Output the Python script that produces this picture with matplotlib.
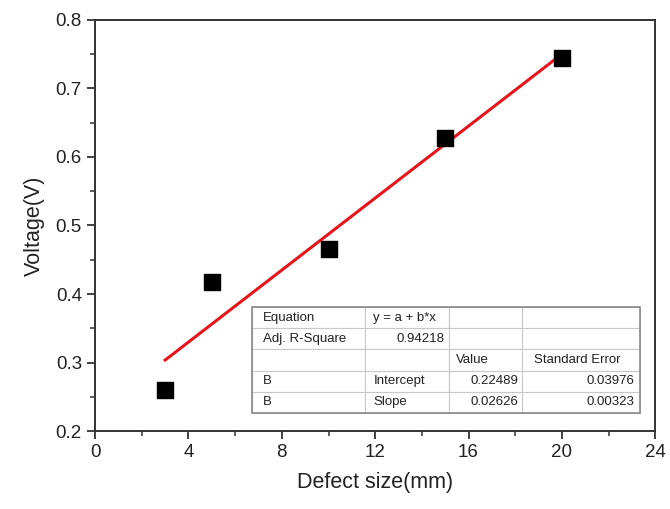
import numpy as np
import matplotlib
matplotlib.use("Agg")
import matplotlib.pyplot as plt
from matplotlib.ticker import MultipleLocator

plt.rcParams['font.family'] = ['Liberation Sans', 'DejaVu Sans']

# ── Data ──────────────────────────────────────────────────────────────────────
defect_size = [3, 5, 10, 15, 20]
voltage = [0.260, 0.417, 0.465, 0.627, 0.745]

intercept = 0.22489
slope = 0.02626

table_rows = [
    ["Equation", "y = a + b*x", "", ""],
    ["Adj. R-Square", "0.94218", "", ""],
    ["", "", "Value", "Standard Error"],
    ["B", "Intercept", "0.22489", "0.03976"],
    ["B", "Slope", "0.02626", "0.00323"],
]

# ── Plot ──────────────────────────────────────────────────────────────────────
fig = plt.figure(figsize=(6.7, 5.09), dpi=100)
ax = fig.add_axes([0.142, 0.153, 0.836, 0.808])

fx = np.array([min(defect_size), max(defect_size)])
ax.plot(fx, intercept + slope * fx, color="#e8141b", lw=2.2, zorder=2)
ax.scatter(defect_size, voltage, marker="s", s=130, color="black", zorder=3)

ax.set_xlim(0, 24)
ax.set_ylim(0.2, 0.8)
ax.xaxis.set_major_locator(MultipleLocator(4))
ax.xaxis.set_minor_locator(MultipleLocator(2))
ax.yaxis.set_major_locator(MultipleLocator(0.1))
ax.yaxis.set_minor_locator(MultipleLocator(0.05))
ax.tick_params(which="major", direction="out", length=6, width=1.3,
               labelsize=13.5, colors="#333333", labelcolor="#222222")
ax.tick_params(which="minor", direction="out", length=3.5, width=1.1, colors="#333333")
for s in ax.spines.values():
    s.set_color("#333333")
    s.set_linewidth(1.4)

ax.set_xlabel("Defect size(mm)", fontsize=15.5, color="#222222", labelpad=8)
ax.set_ylabel("Voltage(V)", fontsize=15.5, color="#222222", labelpad=8)

tbl = ax.table(cellText=table_rows, cellLoc="left",
               colWidths=[0.291, 0.216, 0.188, 0.305],
               bbox=[0.28, 0.044, 0.693, 0.258], zorder=4)
tbl.auto_set_font_size(False)
tbl.set_fontsize(9.5)
for (r, c), cell in tbl.get_celld().items():
    cell.set_edgecolor("#c8c8c8")
    cell.set_linewidth(0.8)
    cell.set_facecolor("white")
    txt = cell.get_text()
    txt.set_color("#222222")
    try:
        float(txt.get_text())
        is_num = True
    except ValueError:
        is_num = False
    if is_num:
        txt.set_horizontalalignment("right")
        cell._loc = "right"
        cell.PAD = 0.05

# outer frame of the table
frame = plt.Rectangle((0.28, 0.044), 0.693, 0.258, transform=ax.transAxes,
                      fill=False, edgecolor="#888888", lw=1.2, zorder=5)
ax.add_patch(frame)

fig.savefig("out.png", dpi=100)
